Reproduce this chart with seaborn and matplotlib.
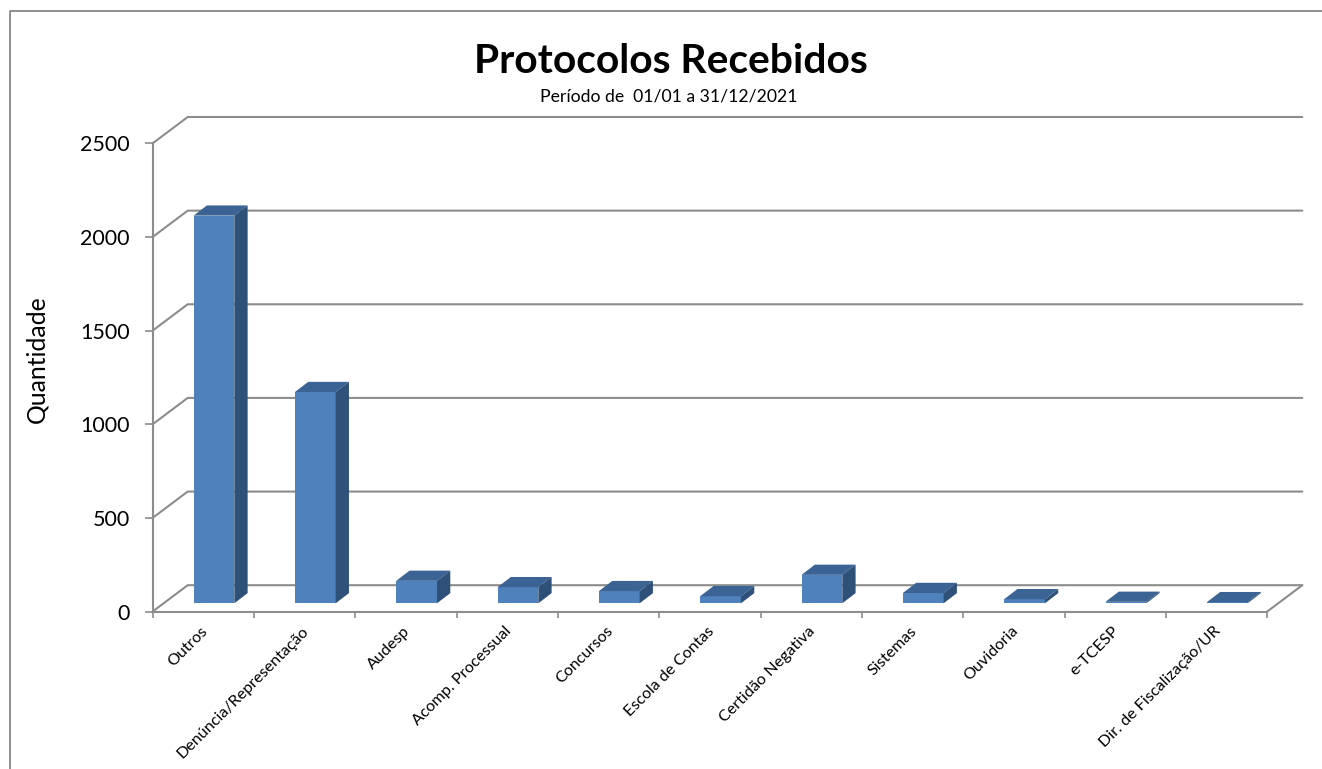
import matplotlib
matplotlib.use("Agg")
import matplotlib.pyplot as plt
from matplotlib.lines import Line2D
from matplotlib.patches import Polygon
from matplotlib.transforms import ScaledTranslation
import numpy as np
import pandas as pd
import seaborn as sns

categories = ["Outros", "Denúncia/Representação", "Audesp", "Acomp. Processual",
              "Concursos", "Escola de Contas", "Certidão Negativa", "Sistemas",
              "Ouvidoria", "e-TCESP", "Dir. de Fiscalização/UR"]
values = [2070, 1128, 120, 86, 65, 38, 152, 55, 22, 8, 6]
y_ticks = [0, 500, 1000, 1500, 2000, 2500]

W, H = 1322, 769
L, R, T, B = 152.7, 1267.3, 143.3, 611.5
WALL_DX, WALL_DY = 35.0, 26.3     # px, depth of the chart box
BAR_DX0, BAR_DY0 = 10.6, 8.2      # px, front face of bars from front plane
BAR_DX, BAR_DY = 13.3, 10.2       # px, depth of bars
GRID = "#8C8C8C"
FRONT, TOP, SIDE = "#4F81BD", "#3B6393", "#2F5179"

sns.set_theme(style="white")
plt.rcParams["font.family"] = ["Lato", "DejaVu Sans"]

fig = plt.figure(figsize=(W / 100, H / 100), dpi=100, facecolor="white")
ax = fig.add_axes([L / W, 1 - B / H, (R - L) / W, (B - T) / H])
ax.patch.set_alpha(0)

df = pd.DataFrame({"categoria": categories, "quantidade": values})
sns.barplot(data=df, x="categoria", y="quantidade", color=FRONT, saturation=1,
            width=0.402, ax=ax, zorder=3, edgecolor="none", linewidth=0)
ax.set_xlim(-0.5, len(categories) - 0.5)
ax.set_ylim(0, y_ticks[-1])

ux = (R - L) / len(categories)          # px per category
uy = (B - T) / y_ticks[-1]              # px per unit


def shift(x, y, dx, dy):
    """Data position moved by a pixel offset along the depth axis."""
    return x + dx / ux, y + dy / uy


# walls
x0, x1 = ax.get_xlim()
for v in y_ticks:
    bx0, by = shift(x0, v, WALL_DX, WALL_DY)
    bx1, _ = shift(x1, v, WALL_DX, WALL_DY)
    ax.add_line(Line2D([x0, bx0, bx1], [v, by, by], color=GRID, lw=1.5,
                       clip_on=False, zorder=1, solid_joinstyle="miter"))
bx1, by = shift(x1, 0, WALL_DX, WALL_DY)
ax.add_line(Line2D([x1, bx1], [0, by], color=GRID, lw=1.5, clip_on=False, zorder=1))

# bars: move the front face into the box, then add the top and side faces
for p in list(ax.patches)[:len(categories)]:
    p.set_x(p.get_x() + BAR_DX0 / ux)
    p.set_y(BAR_DY0 / uy)
    p.set_clip_on(False)
    xa, xb = p.get_x(), p.get_x() + p.get_width()
    ya, yb = p.get_y(), p.get_y() + p.get_height()
    top = [(xa, yb), (xb, yb), shift(xb, yb, BAR_DX, BAR_DY), shift(xa, yb, BAR_DX, BAR_DY)]
    side = [(xb, ya), (xb, yb), shift(xb, yb, BAR_DX, BAR_DY), shift(xb, ya, BAR_DX, BAR_DY)]
    ax.add_patch(Polygon(top, closed=True, fc=TOP, ec="none", clip_on=False, zorder=3))
    ax.add_patch(Polygon(side, closed=True, fc=SIDE, ec="none", clip_on=False, zorder=3))

# axes
sns.despine(ax=ax, top=True, right=True)
for s in ("left", "bottom"):
    ax.spines[s].set_color(GRID)
    ax.spines[s].set_linewidth(1.5)
ax.set_yticks(y_ticks)
ax.set_yticklabels([str(v) for v in y_ticks])
ax.tick_params(axis="y", length=5.5, width=1.2, color=GRID, labelsize=15.5,
               labelcolor="black", pad=11, left=True)
ax.set_xticks(range(len(categories)))
ax.set_xticklabels(categories, rotation=45, ha="right", rotation_mode="anchor")
ax.tick_params(axis="x", which="major", length=0, labelsize=11.6, labelcolor="black", pad=9)
ax.set_xticks(np.arange(len(categories) + 1) - 0.5, minor=True)
ax.tick_params(axis="x", which="minor", length=4.5, width=1.2, color=GRID, bottom=True)
nudge = ScaledTranslation(-3 / 100, 0, fig.dpi_scale_trans)
for lab in ax.get_xticklabels():
    lab.set_transform(lab.get_transform() + nudge)
ax.set_xlabel("")
ax.set_ylabel("")

fig.text(37 / W, 1 - 359 / H, "Quantidade", rotation=90, ha="center", va="center",
         fontsize=17.8, color="black")
fig.text(671 / W, 1 - 61.5 / H, "Protocolos Recebidos", ha="center", va="center",
         fontsize=29.3, fontweight="bold", color="black")
fig.text(669 / W, 1 - 97 / H, "Período de  01/01 a 31/12/2021", ha="center", va="center",
         fontsize=12.7, color="black")

# outer frame
fig.add_artist(Line2D([10 / W, 10 / W, 1], [0, 1 - 11 / H, 1 - 11 / H],
                      transform=fig.transFigure, color="#868686", lw=1.3))

fig.savefig("out.png", dpi=100, facecolor="white")
